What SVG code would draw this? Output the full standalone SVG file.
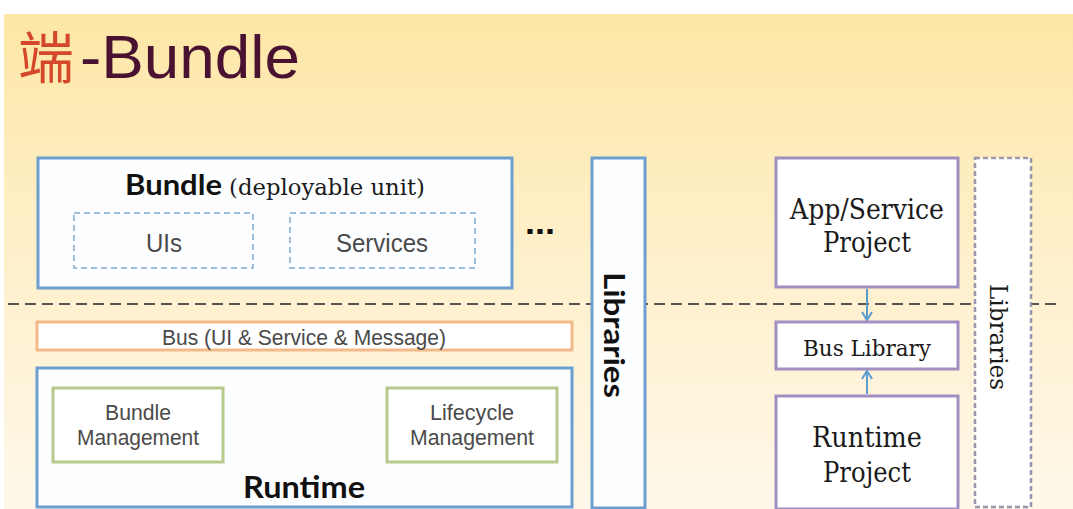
<svg xmlns="http://www.w3.org/2000/svg" width="1073" height="509" viewBox="0 0 1073 509">
<defs>
<linearGradient id="bg" x1="0" y1="0" x2="0" y2="1">
<stop offset="0" stop-color="#FDE7A6"/>
<stop offset="0.45" stop-color="#FEEFC8"/>
<stop offset="1" stop-color="#FFF8EA"/>
</linearGradient>
<marker id="arr" viewBox="0 0 12 12" refX="10" refY="6" markerWidth="12" markerHeight="12" markerUnits="userSpaceOnUse" orient="auto">
<path d="M2,1 L10,6 L2,11" fill="none" stroke="#5C9BD0" stroke-width="2"/>
</marker>
</defs>
<style>
.blue{fill:#FDFEFF;stroke:#6C9FCF;stroke-width:3}
.dashblue{fill:none;stroke:#9DBFDB;stroke-width:2;stroke-dasharray:6 4}
.green{fill:#FFFFFF;stroke:#B7C98C;stroke-width:3}
.orange{fill:#FFFFFF;stroke:#F2B98A;stroke-width:3}
.purple{fill:#FFFFFF;stroke:#A08FC0;stroke-width:3}
.purpledash{fill:#FFFFFF;stroke:#9C95AE;stroke-width:2.5;stroke-dasharray:5 3}
.sans{font-family:"Liberation Sans",Arial,sans-serif;fill:#4A4A4A}
.bold{font-family:Lato,"Open Sans","Liberation Sans",sans-serif;font-weight:bold;fill:#111}
.serif{font-family:"DejaVu Serif","Liberation Serif",serif;fill:#1A1A1A}
</style>
<rect x="0" y="0" width="1073" height="509" fill="#FFFFFF"/>
<rect x="4" y="14" width="1069" height="495" fill="url(#bg)"/>

<g id="title">
<text x="18" y="78" font-family="'Noto Sans CJK SC',sans-serif" font-size="56" fill="#D4472A">端</text>
<text x="80" y="78" font-family="'Liberation Sans',Arial,sans-serif" font-size="61" fill="#4A1231" textLength="220" lengthAdjust="spacingAndGlyphs">-Bundle</text>
</g>

<g id="connectors">
<line x1="8" y1="304" x2="1062" y2="304" stroke="#555" stroke-width="2" stroke-dasharray="11 6"/>
<line x1="867" y1="289" x2="867" y2="320" stroke="#5C9BD0" stroke-width="2" marker-end="url(#arr)"/>
<line x1="867" y1="394" x2="867" y2="371" stroke="#5C9BD0" stroke-width="2" marker-end="url(#arr)"/>
</g>

<g id="bundle">
<rect class="blue" x="38" y="158" width="474" height="130"/>
<text x="125" y="195" class="bold" font-size="28" textLength="97" lengthAdjust="spacingAndGlyphs">Bundle</text>
<text x="229" y="195" class="serif" font-size="23" textLength="196" lengthAdjust="spacingAndGlyphs">(deployable unit)</text>
</g>
<g id="uis">
<rect class="dashblue" x="74" y="213" width="179" height="55"/>
<text x="164" y="252" class="sans" font-size="25" text-anchor="middle" textLength="36" lengthAdjust="spacingAndGlyphs">UIs</text>
</g>
<g id="services">
<rect class="dashblue" x="290" y="213" width="185" height="55"/>
<text x="382" y="252" class="sans" font-size="25" text-anchor="middle" textLength="92" lengthAdjust="spacingAndGlyphs">Services</text>
</g>
<g id="ellipsis">
<text x="540" y="234" font-family="'Liberation Sans',Arial,sans-serif" font-weight="bold" font-size="34" fill="#111" text-anchor="middle" textLength="30" lengthAdjust="spacingAndGlyphs">...</text>
</g>

<g id="bus">
<rect class="orange" x="37" y="322" width="535" height="28"/>
<text x="304" y="345" class="sans" font-size="22" text-anchor="middle" textLength="284" lengthAdjust="spacingAndGlyphs">Bus (UI &amp; Service &amp; Message)</text>
</g>

<g id="runtime">
<rect class="blue" x="37" y="368" width="535" height="139"/>
<text x="304" y="498" class="bold" font-size="30" text-anchor="middle" textLength="122" lengthAdjust="spacingAndGlyphs">Runtime</text>
</g>
<g id="bundle-management">
<rect class="green" x="53" y="388" width="170" height="74"/>
<text x="138" y="420" class="sans" font-size="22" text-anchor="middle" textLength="66" lengthAdjust="spacingAndGlyphs">Bundle</text>
<text x="138" y="445" class="sans" font-size="22" text-anchor="middle" textLength="122" lengthAdjust="spacingAndGlyphs">Management</text>
</g>
<g id="lifecycle-management">
<rect class="green" x="387" y="388" width="170" height="74"/>
<text x="472" y="420" class="sans" font-size="22" text-anchor="middle" textLength="84" lengthAdjust="spacingAndGlyphs">Lifecycle</text>
<text x="472" y="445" class="sans" font-size="22" text-anchor="middle" textLength="124" lengthAdjust="spacingAndGlyphs">Management</text>
</g>

<g id="libraries-left">
<rect class="blue" x="592" y="158" width="53" height="350"/>
<text transform="translate(604,335) rotate(90)" class="bold" font-size="28" text-anchor="middle" textLength="126" lengthAdjust="spacingAndGlyphs">Libraries</text>
</g>

<g id="app-service-project">
<rect class="purple" x="776" y="158" width="182" height="129"/>
<text x="867" y="219" class="serif" font-size="27" text-anchor="middle" textLength="154" lengthAdjust="spacingAndGlyphs">App/Service</text>
<text x="867" y="252" class="serif" font-size="27" text-anchor="middle" textLength="88" lengthAdjust="spacingAndGlyphs">Project</text>
</g>
<g id="bus-library">
<rect class="purple" x="776" y="322" width="182" height="47"/>
<text x="867" y="356" class="serif" font-size="23" text-anchor="middle" textLength="128" lengthAdjust="spacingAndGlyphs">Bus Library</text>
</g>
<g id="runtime-project">
<rect class="purple" x="776" y="396" width="182" height="113"/>
<text x="867" y="447" class="serif" font-size="27" text-anchor="middle" textLength="110" lengthAdjust="spacingAndGlyphs">Runtime</text>
<text x="867" y="482" class="serif" font-size="27" text-anchor="middle" textLength="88" lengthAdjust="spacingAndGlyphs">Project</text>
</g>
<g id="libraries-right">
<rect class="purpledash" x="975" y="158" width="56" height="349"/>
<text transform="translate(990,337) rotate(90)" class="serif" font-size="25" text-anchor="middle" textLength="106" lengthAdjust="spacingAndGlyphs">Libraries</text>
</g>
</svg>
